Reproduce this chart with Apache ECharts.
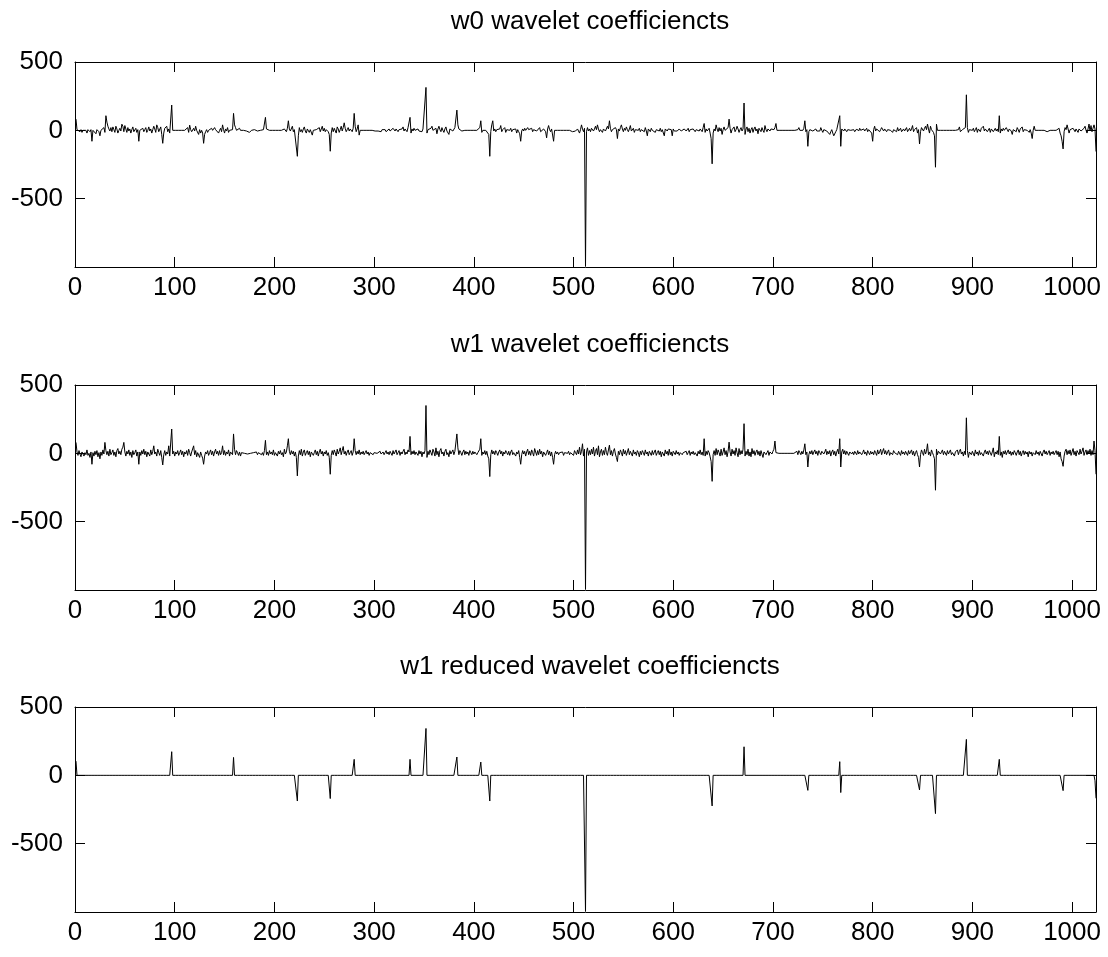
<!DOCTYPE html>
<html><head><meta charset="utf-8">
<script src="https://cdn.jsdelivr.net/npm/echarts@6/dist/echarts.min.js"></script>
<style>html,body{margin:0;padding:0;background:#fff}#c{width:1108px;height:957px}</style>
</head><body><div id="c"></div>
<script>
const titles = ["w0 wavelet coefficiencts", "w1 wavelet coefficiencts", "w1 reduced wavelet coefficiencts"];
const xTicks = [0,100,200,300,400,500,600,700,800,900,1000];
const yTicks = [500,0,-500];

const w0 = [
82,5,-5,0,-10,5,-15,0,10,-5,0,-20,5,0,-10,5,-80,0,10,-5,-25,5,15,-10,-40,0,10,-5,20,-15,107,60,
30,10,-5,20,-10,25,5,-15,30,10,-20,0,15,-5,45,30,-10,35,10,-15,20,-5,10,-20,5,25,-10,0,15,-15,5,-80,
0,10,-5,15,-10,5,20,-15,0,25,-5,10,-20,5,30,10,-15,40,20,-10,0,25,-30,-95,-20,15,5,30,-10,10,-20,-10,
185,0,0,0,0,0,-5,0,0,0,0,-5,5,0,10,-5,20,-15,38,5,-10,0,15,-5,30,0,-10,-30,5,-20,0,-20,
-95,-30,-10,5,-15,0,10,-5,15,0,-10,20,5,-5,10,-20,0,15,-10,40,5,-20,10,-5,20,-15,0,10,-5,5,124,40,
20,0,10,-5,15,0,-10,5,0,0,0,-5,0,-10,-15,-5,0,0,0,5,0,0,-5,0,0,0,0,0,5,0,95,10,
0,0,0,0,0,0,0,0,0,0,0,0,0,0,0,-5,0,10,0,-10,15,70,10,-5,0,30,-10,5,-5,10,-190,-40,
20,-10,5,-15,10,25,-5,-20,10,0,-15,5,-5,-35,0,10,-10,5,15,-5,20,-10,10,30,-5,15,-10,5,0,-10,-30,-153,
-20,20,-10,15,5,-20,25,10,-15,5,30,-5,20,55,15,-10,5,20,-5,10,0,-10,15,124,30,-10,10,40,-35,0,0,0,
0,0,0,0,0,0,0,0,0,0,0,0,-5,0,5,-5,0,0,-10,5,0,-5,5,-10,-5,0,10,-5,5,0,15,20,
-5,10,0,-10,5,15,-5,10,25,-5,10,0,-10,20,15,95,-20,10,-5,15,0,-10,5,10,-5,0,5,-10,10,5,20,314,
-20,5,10,-5,15,30,0,10,-10,15,-25,10,30,5,-10,20,0,-15,10,25,-5,5,-30,10,0,15,-5,0,20,10,148,40,
10,0,5,-5,0,-15,0,5,0,0,0,0,0,0,0,0,0,-5,0,5,10,20,70,-15,0,-5,5,0,10,-10,-30,-190,
-10,40,70,-5,10,-10,5,15,-5,10,35,-10,5,0,20,-15,5,10,-5,0,15,-10,5,0,-5,10,-20,5,-10,-25,-80,-5,
10,-5,15,0,-10,20,5,-5,10,15,-10,5,0,10,-5,-15,5,20,-10,0,-20,10,5,-10,-55,10,35,5,-10,10,5,-80,
0,0,5,0,0,0,0,0,-5,0,0,0,0,0,-5,0,0,0,-10,0,0,-5,0,10,0,-20,5,40,10,-10,15,-996,
-10,20,-5,10,-10,15,25,-5,10,30,5,40,10,-10,5,15,-15,10,20,-5,5,30,10,70,15,-10,5,10,-5,20,5,-60,
10,-5,20,40,10,-10,15,0,25,5,-10,10,35,-5,0,15,-15,5,10,-5,0,15,-10,5,0,10,-10,20,-5,-40,10,5,
-10,15,0,-5,10,-15,5,0,10,-5,15,-10,5,0,-40,10,20,-5,10,0,15,5,-40,10,-5,0,5,-5,0,10,0,-5,
5,0,10,5,-5,0,15,-10,5,0,-5,10,0,-10,5,15,0,-5,10,5,-10,20,50,-15,10,-5,0,15,-20,-60,-245,-20,
10,-5,40,10,-10,20,-5,15,-30,5,25,0,10,-10,20,82,15,-20,5,10,25,-10,5,30,10,-15,5,20,-5,10,200,-30,
10,25,-10,15,-20,5,20,-15,10,25,-5,10,-25,15,5,-10,20,0,-15,35,5,-10,10,5,-5,10,0,15,5,20,50,0,
0,0,0,0,0,0,0,0,0,0,0,0,0,0,0,0,0,0,0,0,5,20,0,-10,5,0,15,70,-10,5,-117,-10,
5,10,0,-5,5,0,10,-5,0,5,-5,20,0,-15,5,0,10,-5,0,5,-30,-10,5,-20,-40,-45,-10,5,15,-5,107,-117,
10,5,-5,10,0,-10,5,15,-5,0,10,-5,5,-10,0,10,5,-5,15,0,-10,5,10,-5,0,15,-10,5,0,10,-20,-80,
5,30,-5,10,0,15,-10,5,20,25,-5,10,0,-10,5,15,-5,0,10,-15,5,0,10,-10,20,-5,5,15,-10,0,10,-5,
5,20,-10,0,15,-5,10,35,-10,5,0,20,-20,5,-100,-10,20,10,-5,15,30,5,46,10,-20,30,5,10,-15,-40,-270,45,
0,0,0,0,5,0,0,0,0,0,-5,0,0,0,0,0,0,0,0,0,0,5,25,-10,0,5,0,10,20,260,20,-15,
5,10,-5,0,15,-10,5,20,-15,10,0,-10,15,5,30,-5,10,20,-10,0,15,-15,10,5,-10,0,15,-5,10,-10,107,-20,
10,-5,15,0,-10,20,5,-10,10,15,-5,-30,5,10,0,-10,20,5,-15,10,0,25,-10,5,15,-5,0,10,-15,5,-20,-60,
0,30,0,0,-5,0,0,0,0,-5,0,0,0,0,-10,0,0,0,0,5,0,0,-10,0,-5,5,15,-20,-40,-80,-136,-10,
20,5,40,10,-20,5,10,-5,15,25,-10,10,0,-15,10,20,-5,5,-10,15,30,0,-20,10,46,-5,35,-10,15,40,10,-155
];

const w1 = [
80,10,-15,20,-5,-25,10,15,-20,5,-10,25,-15,0,-30,10,-80,5,-20,15,-10,20,-25,5,-40,10,-15,25,-5,80,20,-10,
15,-20,30,-10,5,25,-15,10,-25,20,35,-5,15,-10,30,45,80,10,-20,15,-5,25,-15,10,-30,20,-10,5,25,-20,10,-80,
10,-15,20,-5,30,-10,15,-25,10,5,-20,25,-10,15,55,-5,10,-20,30,5,-15,20,-30,-85,-10,20,-15,10,-5,55,-20,-10,
178,-5,15,-20,10,-5,20,-15,5,25,-10,15,-25,10,-5,20,-15,30,5,-20,10,15,55,-10,20,-25,5,15,-30,10,-15,-35,
-80,-20,10,-5,20,-15,5,25,-10,15,-20,10,30,-5,15,-15,20,-10,5,55,-10,20,-15,10,-5,25,-20,10,5,-10,142,30,
-10,20,5,-15,10,-20,5,0,-5,0,5,0,-5,0,5,0,-5,0,5,-5,0,10,-10,5,-5,15,-10,5,-15,20,95,-10,
10,-15,20,-5,10,-10,25,-15,5,10,-20,15,-5,20,-10,5,-25,30,-5,10,55,107,15,-10,20,-5,15,-20,10,-30,-165,-20,
20,-10,30,-20,10,25,-15,5,20,-10,15,-25,10,20,-15,5,25,-10,15,-20,10,30,-5,15,-20,10,-5,20,-15,5,-30,-153,
-15,20,-10,25,5,-20,30,-5,15,40,-10,20,50,-5,15,-15,10,25,-10,5,20,-15,10,107,20,-10,15,-5,25,-10,10,-5,
15,-10,5,20,-5,10,-15,5,0,15,-10,5,-5,10,0,-10,5,15,-5,0,10,-10,5,20,-5,10,-10,15,5,-15,20,-5,
10,25,-10,5,20,-15,10,-5,15,30,-10,10,-5,25,10,124,-10,15,-5,20,-10,10,5,-15,20,-5,15,-25,10,-5,20,350,
-30,15,-10,25,5,-15,30,10,-20,40,-10,15,-25,20,35,-5,10,-20,15,30,-10,5,-25,20,-5,10,25,-10,15,5,142,40,
-10,20,5,-15,10,25,-10,15,-5,10,-15,20,5,-10,15,-5,10,20,-10,5,15,30,107,-15,10,-5,20,-10,15,-20,-40,-170,
-10,25,-5,15,-10,20,5,-15,10,25,-5,15,-20,10,-5,20,5,-10,15,-15,10,25,-10,5,15,-20,10,-5,20,-30,-80,-10,
20,-5,15,-20,10,30,-10,15,-15,25,5,-20,35,10,-15,20,-10,30,-5,15,-25,10,20,-15,5,25,-10,15,-20,10,-30,-80,
-10,15,-5,10,-10,5,15,-5,10,-15,5,10,-5,0,15,-10,5,-5,10,-15,20,5,-10,25,-5,45,-10,15,70,-20,30,-996,
10,40,-15,20,-10,30,-5,45,-20,15,35,-10,55,-25,10,30,-15,20,-10,45,5,-15,25,60,-10,20,-20,15,35,-5,-30,-60,
15,-10,25,5,-20,30,-5,20,-15,10,35,-10,15,5,-20,25,-5,10,-15,20,5,-25,15,-10,20,5,-15,25,-5,10,-20,15,
5,-15,20,-10,10,25,-15,5,20,-10,15,-25,10,5,-20,25,-5,15,-15,30,-10,10,-20,15,5,-10,20,-5,10,-15,5,15,
-10,5,10,-5,15,-10,5,20,-15,10,-5,15,-10,5,10,-20,15,-5,25,-10,10,-15,107,-20,15,-10,20,5,-25,-60,-205,-10,
20,-15,35,-10,25,5,-20,30,-15,10,40,-10,20,-25,15,82,10,-20,30,-5,20,-15,40,5,-25,35,-10,20,-5,30,217,-20,
15,-10,30,-20,10,-25,35,-5,20,-15,10,25,-10,15,-20,20,-5,-30,10,15,-10,5,20,-15,10,5,-5,15,30,90,5,-5,
5,0,-5,5,0,-5,5,0,-5,5,0,5,-5,0,10,-5,0,-10,5,15,-10,20,5,-10,15,-5,25,70,-10,10,-100,-10,
15,-5,20,-10,10,25,-5,15,-15,20,5,-10,15,25,-5,10,30,-10,15,-5,20,-20,10,25,-10,15,-20,10,30,-5,107,-100,
10,30,-5,20,-10,15,5,-15,10,20,-5,10,-10,15,5,-10,20,-5,10,15,-10,5,25,-5,10,-15,20,5,-10,15,-5,10,
-10,20,5,-15,25,-5,10,30,-10,15,35,-5,20,-10,10,25,-15,5,15,-10,20,5,-5,10,-10,15,5,-15,20,-5,10,-10,
15,5,-15,20,-5,10,25,-10,15,-20,5,20,-10,-30,-100,-10,25,5,-15,30,-5,15,70,-10,10,-20,25,5,-15,-40,-270,30,
-10,15,20,-5,10,25,-10,15,5,-15,20,-5,10,25,-10,5,15,-20,10,5,25,-10,15,30,-5,10,-20,15,-10,260,20,-30,
10,20,-10,15,5,-20,25,-5,10,-15,20,-10,5,15,-20,10,25,-5,15,-10,20,5,-15,10,40,-25,10,-5,20,-10,124,-15,
10,-30,15,-5,20,-10,10,25,-5,15,-15,10,-10,20,5,-15,10,25,-10,15,-20,5,20,-10,15,-5,10,-25,15,-5,10,-20,
5,15,-10,20,-5,10,-15,15,5,-20,10,25,-5,15,-10,5,20,-15,10,-5,15,-10,5,20,-10,15,-25,10,-40,-60,-95,-20,
15,30,-10,20,-5,25,-15,10,35,-10,15,-20,20,5,-10,30,-5,15,40,-15,10,25,-10,20,-5,30,-15,20,-10,90,20,-153
];

// w1 reduced: nonzero coefficients only (all others are 0)
const w1rIndex = [1, 97, 159, 223, 256, 280, 336, 352, 383, 407, 416, 512, 639, 671, 735, 767, 768, 847, 863, 894, 927, 991, 1023, 1024];
const w1rValue = [104, 173, 131, -188, -170, 117, 117, 343, 134, 97, -188, -996, -224, 209, -110, 100, -126, -107, -280, 263, 117, -112, -40, -168];

const N = 1024;
function toPairs(arr){ return arr.map((v,i)=>[i+1, v]); }
const w1r = new Array(N).fill(0);
w1rIndex.forEach((ix,k)=>{ w1r[ix-1] = w1rValue[k]; });
const seriesData = [toPairs(w0), toPairs(w1), toPairs(w1r)];

const FONT = 'Liberation Sans, Arial, Helvetica, sans-serif';
const tops = [62, 385, 707];
const H = 205;
const grids = [], xAxes = [], yAxes = [], series = [], title = [];
tops.forEach((t, g) => {
  grids.push({left: 75, right: 12, top: t, height: H, containLabel: false});
  title.push({text: titles[g], left: 585, top: t - 58, textAlign: 'center',
    textStyle: {fontFamily: FONT, fontSize: 26, fontWeight: 'normal', color: '#000'}});
  const xBase = {type: 'value', gridIndex: g, min: 0, max: N, interval: 100,
    axisLine: {show: true, onZero: false, lineStyle: {color: '#000', width: 1}},
    axisTick: {show: true, inside: true, length: 10, lineStyle: {color: '#000'}},
    splitLine: {show: false}};
  xAxes.push(Object.assign({}, xBase, {position: 'bottom',
    axisLabel: {show: true, fontFamily: FONT, fontSize: 26, color: '#000', margin: 8,
      formatter: v => xTicks.includes(v) ? String(v) : ''}}));
  xAxes.push(Object.assign({}, xBase, {position: 'top', axisLabel: {show: false}}));
  const yBase = {type: 'value', gridIndex: g, min: -1000, max: 500, interval: 500,
    axisLine: {show: true, onZero: false, lineStyle: {color: '#000', width: 1}},
    axisTick: {show: true, inside: true, length: 10, lineStyle: {color: '#000'}},
    splitLine: {show: false}};
  yAxes.push(Object.assign({}, yBase, {position: 'left',
    axisLabel: {show: true, fontFamily: FONT, fontSize: 26, color: '#000', margin: 12,
      formatter: v => yTicks.includes(v) ? String(v) : ''}}));
  yAxes.push(Object.assign({}, yBase, {position: 'right', axisLabel: {show: false}}));
  series.push({type: 'line', xAxisIndex: 2*g, yAxisIndex: 2*g, data: seriesData[g],
    showSymbol: false, symbol: 'none', sampling: null, animation: false,
    lineStyle: {color: '#000', width: 1}});
});

const chart = echarts.init(document.getElementById('c'), null, {renderer: 'canvas'});
chart.setOption({animation: false, backgroundColor: '#fff', title, grid: grids, xAxis: xAxes, yAxis: yAxes, series});
</script></body></html>
